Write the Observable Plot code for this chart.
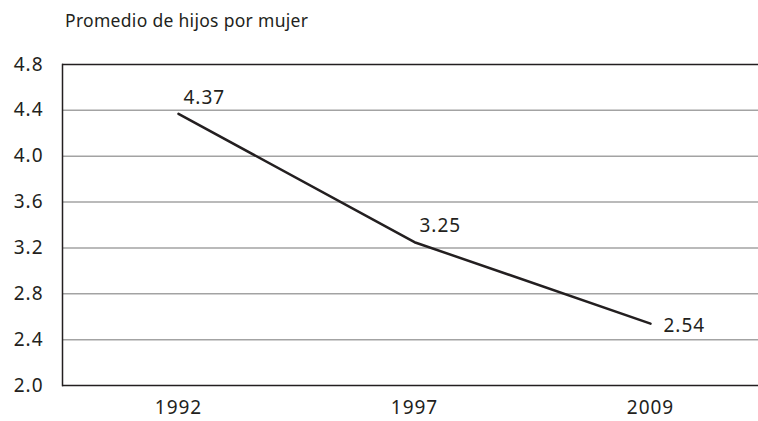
<!DOCTYPE html>
<html>
<head>
<meta charset="utf-8">
<script src="https://cdn.jsdelivr.net/npm/d3@7"></script>
<script src="https://cdn.jsdelivr.net/npm/@observablehq/plot@0.6"></script>
<style>
  html, body { margin: 0; padding: 0; background: #fff; }
  #wrap { width: 758px; height: 421px; font-family: "Noto Sans", sans-serif; color: #231f20; }
  #title { height: 40px; box-sizing: border-box; padding: 8px 0 0 65px; font-size: 17.5px; line-height: 24px; letter-spacing: 0.3px; }
</style>
</head>
<body>
<div id="wrap">
  <div id="title">Promedio de hijos por mujer</div>
  <div id="chart"></div>
</div>
<script>
const years = ["1992", "1997", "2009"];
const values = [4.37, 3.25, 2.54];
const labels = ["4.37", "3.25", "2.54"];
const yTicks = [2.0, 2.4, 2.8, 3.2, 3.6, 4.0, 4.4, 4.8];
const gridTicks = [2.4, 2.8, 3.2, 3.6, 4.0, 4.4];
const edgeTicks = [2.0, 4.8];

const data = years.map((y, i) => ({year: y, value: values[i], label: labels[i]}));
const ink = "#231f20";

const chart = Plot.plot({
  width: 758,
  height: 381,
  marginTop: 24,
  marginBottom: 36,
  marginLeft: 62,
  marginRight: 0,
  style: { fontFamily: "Noto Sans, sans-serif", fontSize: "19px", color: ink, background: "#fff", letterSpacing: "1px" },
  x: { type: "point", domain: years, padding: 0, insetLeft: 116, insetRight: 108, label: null },
  y: { domain: [2.0, 4.8], label: null },
  marks: [
    Plot.ruleY(gridTicks, { stroke: "#a3a3a3", strokeWidth: 1.5 }),
    Plot.ruleY(edgeTicks, { stroke: ink, strokeWidth: 1.5 }),
    Plot.frame({ anchor: "left", stroke: ink, strokeWidth: 1.5 }),
    Plot.axisY({ ticks: yTicks, tickFormat: d3.format(".1f"), tickSize: 0, tickPadding: 19, fill: ink, fontSize: 19 }),
    Plot.axisX({ tickSize: 0, tickPadding: 15, fill: ink, fontSize: 19 }),
    Plot.line(data, { x: "year", y: "value", stroke: ink, strokeWidth: 2.5 }),
    Plot.text(data.slice(0, 2), { x: "year", y: "value", text: "label", textAnchor: "start", dx: 5, dy: -16, fill: ink, fontSize: 19 }),
    Plot.text(data.slice(2), { x: "year", y: "value", text: "label", textAnchor: "start", dx: 13, dy: 2, fill: ink, fontSize: 19 })
  ]
});
document.getElementById("chart").appendChild(chart);
</script>
</body>
</html>
